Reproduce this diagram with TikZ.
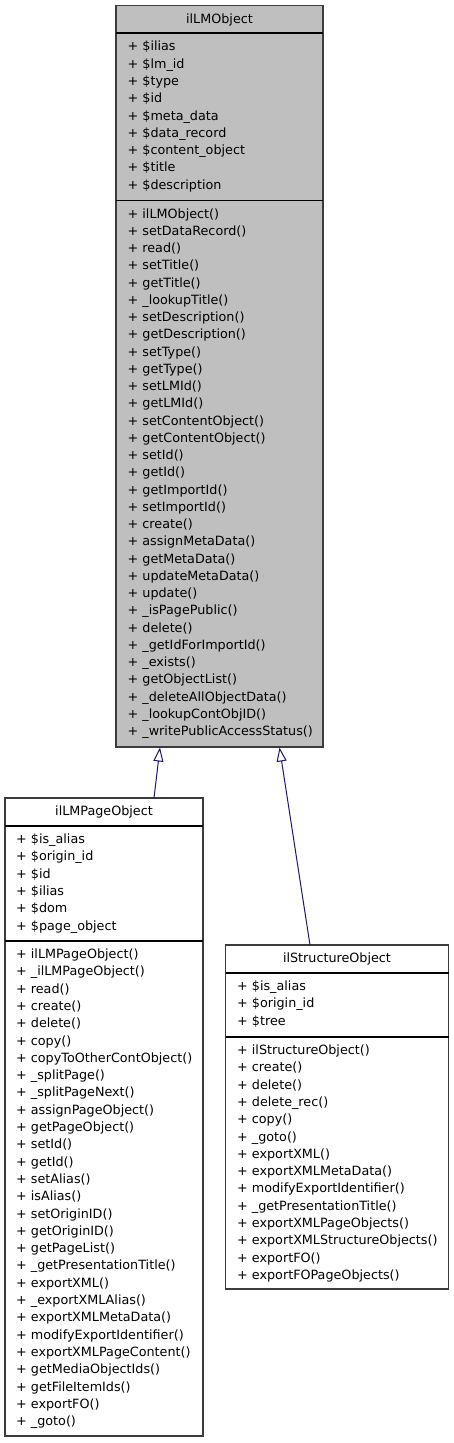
\documentclass[tikz,border=0pt]{standalone}
\usepackage{fontspec}
\setmainfont{DejaVu Sans}
\usetikzlibrary{arrows.meta,calc}
\definecolor{boxfill}{HTML}{BFBFBF}
\definecolor{boxline}{HTML}{3C3C3C}
\definecolor{edgecol}{HTML}{191970}
\begin{document}
\begin{tikzpicture}[x=1pt,y=1pt,
  box/.style={draw=boxline, line width=1.3pt, inner sep=0pt, outer sep=0pt, anchor=north west},
  sepline/.style={draw=black, line width=1.5pt},
  txt/.style={anchor=base west, inner sep=0pt, font=\fontsize{12.75}{15}\selectfont},
  ttl/.style={anchor=base, inner sep=0pt, font=\fontsize{12.75}{15}\selectfont},
  inh/.style={draw=edgecol, line width=1pt, -{Triangle[length=14pt, width=10pt, fill=white]}}
]
\useasboundingbox (0,0) rectangle (453,-1443);

% ---------- ilLMObject ----------
\node[box, fill=boxfill, minimum width=207pt, minimum height=741.5pt] (lmo) at (116,-5.5) {};
\draw[sepline] ($(lmo.north west)+(0,-27.5)$) -- ($(lmo.north east)+(0,-27.5)$);
\draw[sepline] ($(lmo.north west)+(0,-195)$) -- ($(lmo.north east)+(0,-195)$);
\node[ttl] (lmot) at (219.5,-23) {ilLMObject};
\foreach \t [count=\i from 0] in {\$ilias,\$lm\_id,\$type,\$id,\$meta\_data,\$data\_record,\$content\_object,\$title,\$description}
  \node[txt] (lmoa\i) at (127.5,{-(50.8+17.3*\i)}) {+ \t};
\foreach \t [count=\i from 0] in {ilLMObject(),setDataRecord(),read(),setTitle(),getTitle(),\_lookupTitle(),setDescription(),getDescription(),setType(),getType(),setLMId(),getLMId(),setContentObject(),getContentObject(),setId(),getId(),getImportId(),setImportId(),create(),assignMetaData(),getMetaData(),updateMetaData(),update(),\_isPagePublic(),delete(),\_getIdForImportId(),\_exists(),getObjectList(),\_deleteAllObjectData(),\_lookupContObjID(),\_writePublicAccessStatus()}
  \node[txt] (lmom\i) at (127.5,{-(218+17.25*\i)}) {+ \t};

% ---------- ilLMPageObject ----------
\node[box, fill=white, minimum width=198pt, minimum height=638pt] (pg) at (5,-798) {};
\draw[sepline] ($(pg.north west)+(0,-28)$) -- ($(pg.north east)+(0,-28)$);
\draw[sepline] ($(pg.north west)+(0,-143)$) -- ($(pg.north east)+(0,-143)$);
\node[ttl] (pgt) at (104,-815.5) {ilLMPageObject};
\foreach \t [count=\i from 0] in {\$is\_alias,\$origin\_id,\$id,\$ilias,\$dom,\$page\_object}
  \node[txt] (pga\i) at (16,{-(843.5+17.3*\i)}) {+ \t};
\foreach \t [count=\i from 0] in {ilLMPageObject(),\_ilLMPageObject(),read(),create(),delete(),copy(),copyToOtherContObject(),\_splitPage(),\_splitPageNext(),assignPageObject(),getPageObject(),setId(),getId(),setAlias(),isAlias(),setOriginID(),getOriginID(),getPageList(),\_getPresentationTitle(),exportXML(),\_exportXMLAlias(),exportXMLMetaData(),modifyExportIdentifier(),exportXMLPageContent(),getMediaObjectIds(),getFileItemIds(),exportFO(),\_goto()}
  \node[txt] (pgm\i) at (16,{-(958.5+17.3*\i)}) {+ \t};

% ---------- ilStructureObject ----------
\node[box, fill=white, minimum width=223pt, minimum height=344pt] (st) at (225.5,-945) {};
\draw[sepline] ($(st.north west)+(0,-28)$) -- ($(st.north east)+(0,-28)$);
\draw[sepline] ($(st.north west)+(0,-92)$) -- ($(st.north east)+(0,-92)$);
\node[ttl] (stt) at (337,-962.5) {ilStructureObject};
\foreach \t [count=\i from 0] in {\$is\_alias,\$origin\_id,\$tree}
  \node[txt] (sta\i) at (237,{-(990.5+17.3*\i)}) {+ \t};
\foreach \t [count=\i from 0] in {ilStructureObject(),create(),delete(),delete\_rec(),copy(),\_goto(),exportXML(),exportXMLMetaData(),modifyExportIdentifier(),\_getPresentationTitle(),exportXMLPageObjects(),exportXMLStructureObjects(),exportFO(),exportFOPageObjects()}
  \node[txt] (stm\i) at (237,{-(1054.5+17.3*\i)}) {+ \t};

% ---------- inheritance ----------
\coordinate (e1s) at (154,-798);
\coordinate (e1t) at (160,-747.5);
\coordinate (e2s) at (310,-945);
\coordinate (e2t) at (279.5,-747.5);
\draw[inh] (e1s) -- (e1t);
\draw[inh] (e2s) -- (e2t);
\end{tikzpicture}
\end{document}
